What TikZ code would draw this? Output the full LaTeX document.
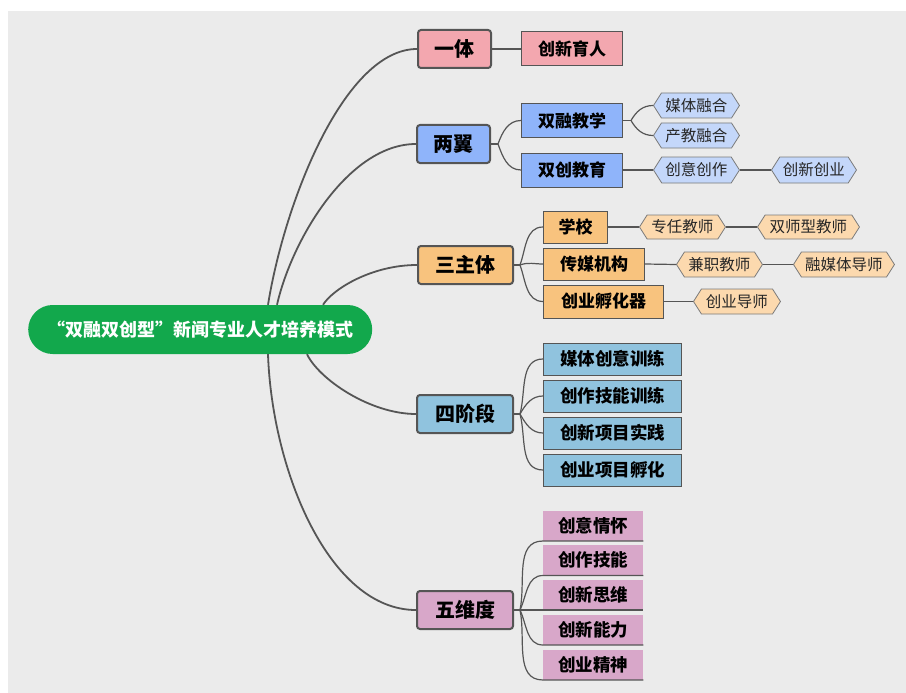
\documentclass[tikz,border=0pt]{standalone}
\usepackage{fontspec}
\newfontfamily\cjk{Noto Sans CJK SC}
\usetikzlibrary{shapes.symbols}
\definecolor{bg}{HTML}{EBEBEB}
\definecolor{rootg}{HTML}{12A84C}
\definecolor{pk}{HTML}{F3A7AF}
\definecolor{bl}{HTML}{8FB4FA}
\definecolor{blh}{HTML}{C4D7FA}
\definecolor{og}{HTML}{F8C37E}
\definecolor{ogh}{HTML}{FCD9AE}
\definecolor{sb}{HTML}{90C3DE}
\definecolor{pu}{HTML}{D8A7C9}
\definecolor{ln}{HTML}{555555}
\definecolor{hexln}{HTML}{7A7A7A}
\tikzset{
  rootst/.style={fill=rootg, rounded corners=24.5pt, minimum width=344pt, minimum height=49pt,
    anchor=west, inner sep=0pt, text=white, font=\cjk\bfseries\fontsize{18}{22}\selectfont},
  lvA/.style={draw=ln, line width=2pt, rounded corners=3pt, minimum height=38pt, anchor=west,
    inner sep=0pt, text=black, font=\cjk\bfseries\fontsize{20}{24}\selectfont},
  lvB/.style={draw=ln, line width=1pt, minimum height=33pt, anchor=west, inner sep=0pt,
    text=black, font=\cjk\bfseries\fontsize{17}{20}\selectfont},
  lvC/.style={draw=ln, line width=1pt, fill=sb, minimum height=32pt, minimum width=138pt, anchor=west,
    inner sep=0pt, text=black, font=\cjk\bfseries\fontsize{17.5}{20}\selectfont},
  lvD/.style={fill=pu, minimum height=30pt, minimum width=100pt, anchor=south west,
    inner sep=0pt, text=black, font=\cjk\bfseries\fontsize{17.5}{20}\selectfont},
  hx/.style={signal, signal to=west and east, signal pointer angle=115, draw=hexln, line width=0.8pt,
    minimum height=25pt, inner sep=0pt, anchor=west, text=black!85, font=\cjk\fontsize{15.5}{18}\selectfont},
  conn/.style={draw=ln, line width=1.2pt},
  mainconn/.style={draw=ln, line width=1.8pt},
}
\begin{document}
\begin{tikzpicture}[x=1pt,y=-1pt]
\useasboundingbox (0,0) rectangle (906,693);
\fill[white] (0,0) rectangle (906,693);
\fill[bg] (8,11) rectangle (906,693);

% root
\node[rootst] (root) at (28,329.5) {“双融双创型”新闻专业人才培养模式};

% level 1
\node[lvA, fill=pk, minimum width=73pt] (yt) at (417,49) {一体};
\node[lvA, fill=bl, minimum width=73pt] (ly) at (416,144) {两翼};
\node[lvA, fill=og, minimum width=95pt] (sz) at (417,265) {三主体};
\node[lvA, fill=sb, minimum width=96pt] (sj) at (416,414) {四阶段};
\node[lvA, fill=pu, minimum width=96pt] (wd) at (416,610) {五维度};

% level 2
\node[lvB, fill=pk, minimum width=101pt, minimum height=34pt] (cx) at (521,49) {创新育人};
\node[lvB, fill=bl, minimum width=101pt] (srjx) at (521,120.5) {双融教学};
\node[lvB, fill=bl, minimum width=101pt, minimum height=34pt] (scjy) at (521,170) {双创教育};
\node[lvB, fill=og, minimum width=64pt, minimum height=32pt] (xx) at (543,227) {学校};
\node[lvB, fill=og, minimum width=101pt, minimum height=32pt] (cmjg) at (543,264) {传媒机构};
\node[lvB, fill=og, minimum width=120pt] (cyfh) at (543,301.5) {创业孵化器};

\node[lvC] (a1) at (543,359) {媒体创意训练};
\node[lvC] (a2) at (543,396) {创作技能训练};
\node[lvC] (a3) at (543,433) {创新项目实践};
\node[lvC] (a4) at (543,470) {创业项目孵化};

\node[lvD] (b1) at (543,541) {创意情怀};
\node[lvD] (b2) at (543,575.5) {创作技能};
\node[lvD] (b3) at (543,610) {创新思维};
\node[lvD] (b4) at (543,645) {创新能力};
\node[lvD] (b5) at (543,680) {创业精神};

% hexagons
\node[hx, fill=blh, minimum width=86pt] (mtrh) at (653,105.5) {媒体融合};
\node[hx, fill=blh, minimum width=86pt] (cjrh) at (653,135.5) {产教融合};
\node[hx, fill=blh, minimum width=86pt, minimum height=26pt] (cycz) at (653,170) {创意创作};
\node[hx, fill=blh, minimum width=85pt, minimum height=26pt] (cxcy) at (771,170) {创新创业};
\node[hx, fill=ogh, minimum width=86pt, minimum height=24pt] (zrjs) at (639,227) {专任教师};
\node[hx, fill=ogh, minimum width=102pt, minimum height=24pt] (ssx) at (757,227) {双师型教师};
\node[hx, fill=ogh, minimum width=86pt] (jzjs) at (676,264.5) {兼职教师};
\node[hx, fill=ogh, minimum width=101pt] (rmt) at (793,264.5) {融媒体导师};
\node[hx, fill=ogh, minimum width=87pt] (cyds) at (693,301.5) {创业导师};

% root connectors
\draw[mainconn] ([xshift=240pt]root.north west) .. controls +(17,-105) and +(-72,0) .. (yt.west);
\draw[mainconn] ([xshift=249pt]root.north west) .. controls +(15,-66) and +(-67,0) .. (ly.west);
\draw[mainconn] ([xshift=295pt]root.north west) .. controls +(10,-16) and +(-45,0) .. (sz.west);
\draw[mainconn] ([xshift=279pt]root.south west) .. controls +(12,25) and +(-46,0) .. (sj.west);
\draw[mainconn] ([xshift=240pt]root.south west) .. controls +(4,116) and +(-87,0) .. (wd.west);

% 一体
\draw[conn] (yt.east) -- (cx.west);

% 两翼
\coordinate (lyf) at ([xshift=7pt]ly.east);
\draw[conn] (ly.east) -- (lyf);
\draw[conn] (lyf) to[out=70,in=180] (srjx.west);
\draw[conn] (lyf) to[out=-70,in=180] (scjy.west);
\coordinate (srf) at ([xshift=8pt]srjx.east);
\draw[conn] (srjx.east) -- (srf);
\draw[conn] (srf) to[out=60,in=180] (mtrh.west);
\draw[conn] (srf) to[out=-60,in=180] (cjrh.west);
\draw[conn] (scjy.east) -- (cycz.west);
\draw[conn] (cycz.east) -- (cxcy.west);

% 三主体
\coordinate (szf) at ([xshift=6pt]sz.east);
\draw[conn] (sz.east) -- (szf);
\draw[conn] (szf) to[out=70,in=180] (xx.west);
\draw[conn] (szf) to[out=20,in=180] (cmjg.west);
\draw[conn] (szf) to[out=-70,in=180] (cyfh.west);
\draw[conn] (xx.east) -- (zrjs.west);
\draw[conn] (zrjs.east) -- (ssx.west);
\draw[conn] (cmjg.east) -- (jzjs.west);
\draw[conn] (jzjs.east) -- (rmt.west);
\draw[conn] (cyfh.east) -- (cyds.west);

% 四阶段
\coordinate (sjf) at ([xshift=6pt]sj.east);
\draw[conn] (sj.east) -- (sjf);
\draw[conn] (sjf) to[out=75,in=180] (a1.west);
\draw[conn] (sjf) to[out=60,in=180] (a2.west);
\draw[conn] (sjf) to[out=-60,in=180] (a3.west);
\draw[conn] (sjf) to[out=-75,in=180] (a4.west);

% 五维度
\coordinate (wdf) at ([xshift=6pt]wd.east);
\draw[conn] (wd.east) -- (wdf);
\draw[conn] (wdf) to[out=78,in=180] (b1.south west) -- (b1.south east);
\draw[conn] (wdf) to[out=65,in=180] (b2.south west) -- (b2.south east);
\draw[conn] (wdf) -- (b3.south west) -- (b3.south east);
\draw[conn] (wdf) to[out=-65,in=180] (b4.south west) -- (b4.south east);
\draw[conn] (wdf) to[out=-78,in=180] (b5.south west) -- (b5.south east);
\end{tikzpicture}
\end{document}
